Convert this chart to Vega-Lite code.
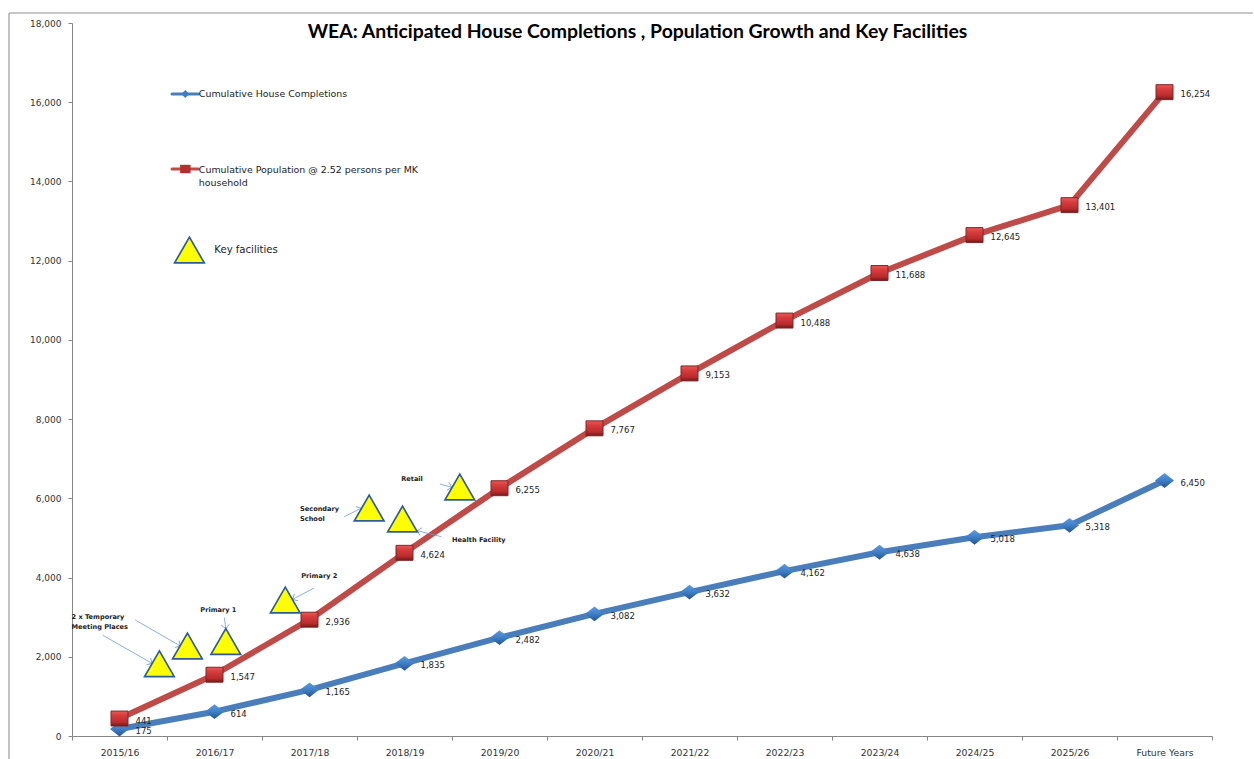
{
"$schema":"https://vega.github.io/schema/vega-lite/v6.json",
"width":1140,"height":713,
"autosize":"none",
"padding":{"left":72,"top":23,"right":42,"bottom":23},
"background":"white",
"title":{"text":"WEA: Anticipated House Completions , Population Growth and Key Facilities","font":"Lato","fontSize":19.4,"fontWeight":"bold","color":"#000000","anchor":"middle","dx":-4.5,"dy":30,"offset":0},
"config":{"view":{"stroke":null},"axis":{"grid":false,"labelFont":"DejaVu Sans","labelColor":"#333333","domainColor":"#868686","tickColor":"#868686","tickSize":4,"title":null}},
"datasets":{
"series":[
{"period":"2015/16","series":"Cumulative House Completions","value":175},
{"period":"2016/17","series":"Cumulative House Completions","value":614},
{"period":"2017/18","series":"Cumulative House Completions","value":1165},
{"period":"2018/19","series":"Cumulative House Completions","value":1835},
{"period":"2019/20","series":"Cumulative House Completions","value":2482},
{"period":"2020/21","series":"Cumulative House Completions","value":3082},
{"period":"2021/22","series":"Cumulative House Completions","value":3632},
{"period":"2022/23","series":"Cumulative House Completions","value":4162},
{"period":"2023/24","series":"Cumulative House Completions","value":4638},
{"period":"2024/25","series":"Cumulative House Completions","value":5018},
{"period":"2025/26","series":"Cumulative House Completions","value":5318},
{"period":"Future Years","series":"Cumulative House Completions","value":6450},
{"period":"2015/16","series":"Cumulative Population","value":441},
{"period":"2016/17","series":"Cumulative Population","value":1547},
{"period":"2017/18","series":"Cumulative Population","value":2936},
{"period":"2018/19","series":"Cumulative Population","value":4624},
{"period":"2019/20","series":"Cumulative Population","value":6255},
{"period":"2020/21","series":"Cumulative Population","value":7767},
{"period":"2021/22","series":"Cumulative Population","value":9153},
{"period":"2022/23","series":"Cumulative Population","value":10488},
{"period":"2023/24","series":"Cumulative Population","value":11688},
{"period":"2024/25","series":"Cumulative Population","value":12645},
{"period":"2025/26","series":"Cumulative Population","value":13401},
{"period":"Future Years","series":"Cumulative Population","value":16254}
],
"facilities":[
{"pos":0.920,"value":1825},{"pos":1.215,"value":2272},{"pos":1.619,"value":2386},{"pos":2.245,"value":3433},
{"pos":3.128,"value":5756},{"pos":3.479,"value":5478},{"pos":4.082,"value":6286},{"pos":1.236,"value":12269}
],
"notes":[
{"pos":-0.005,"value":3012,"text":"2 x Temporary"},
{"pos":-0.005,"value":2759,"text":"Meeting  Places"},
{"pos":1.351,"value":3173,"text":"Primary 1"},
{"pos":2.413,"value":4032,"text":"Primary 2"},
{"pos":2.400,"value":5723,"text":"Secondary"},
{"pos":2.400,"value":5471,"text":"School"},
{"pos":3.465,"value":6480,"text":"Retail"},
{"pos":4.001,"value":4940,"text":"Health Facility"}
],
"arrows":[
{"pos":0.325,"value":2542,"pos2":0.843,"value2":1835,"angle":119.6},
{"pos":0.666,"value":2928,"pos2":1.141,"value2":2272,"angle":120},
{"pos":1.604,"value":2986,"pos2":1.619,"value2":2709,"angle":172},
{"pos":2.548,"value":3736,"pos2":2.323,"value2":3451,"angle":242},
{"pos":2.865,"value":5536,"pos2":3.044,"value2":5748,"angle":64},
{"pos":3.890,"value":5031,"pos2":3.633,"value2":5183,"angle":284},
{"pos":3.872,"value":6362,"pos2":3.998,"value2":6278,"angle":105}
],
"legendText":[
{"pos":1.335,"value":16207,"text":"Cumulative House Completions"},
{"pos":1.335,"value":14297,"text":"Cumulative Population @ 2.52 persons per MK"},
{"pos":1.335,"value":13968,"text":"household"}
],
"legendLines":[
{"pos":1.054,"pos2":1.330,"value":16207,"series":"Cumulative House Completions"},
{"pos":1.054,"pos2":1.330,"value":14314,"series":"Cumulative Population"}
],
"frame":[
{"pos":-0.663,"pos2":-0.663,"value":18252,"value2":-580},
{"pos":-0.663,"pos2":12.43,"value":18252,"value2":18252}
]
},
"resolve":{"scale":{"x":"independent"},"axis":{"x":"independent"}},
"layer":[
{
"encoding":{
"x":{"field":"period","type":"nominal","sort":null,"scale":{"type":"band","paddingInner":0,"paddingOuter":0},"axis":{"title":null,"labelAngle":0,"labelFontSize":9.3,"labelPadding":8,"tickBand":"extent"}},
"y":{"field":"value","type":"quantitative","scale":{"domain":[0,18000],"nice":false},"axis":{"title":null,"values":[0,2000,4000,6000,8000,10000,12000,14000,16000,18000],"labelExpr":"format(datum.value, ',')","labelFontSize":9,"labelPadding":7}}
},
"data":{"name":"series"},
"layer":[
{"mark":{"type":"line","strokeWidth":6,"strokeJoin":"round"},
 "encoding":{"color":{"field":"series","type":"nominal","legend":null,"scale":{"domain":["Cumulative House Completions","Cumulative Population"],"range":["#4a7ebb","#be4b48"]}}}},
{"transform":[{"filter":"datum.series === 'Cumulative House Completions'"}],
 "mark":{"type":"point","filled":true,"opacity":1,"size":361,"shape":"M-1,0L0,-0.78L1,0L0,0.78Z","strokeWidth":0,"fill":{"gradient":"linear","x1":0,"y1":0,"x2":0,"y2":1,"stops":[{"offset":0,"color":"#5f9ae0"},{"offset":0.5,"color":"#3f7fc6"},{"offset":1,"color":"#24548f"}]}}},
{"transform":[{"filter":"datum.series === 'Cumulative Population'"}],
 "mark":{"type":"point","filled":true,"opacity":1,"size":289,"shape":"M-1,-0.88H1V0.88H-1Z","stroke":"#7e2626","strokeWidth":1,"fill":{"gradient":"linear","x1":0,"y1":0,"x2":0,"y2":1,"stops":[{"offset":0,"color":"#e85a5a"},{"offset":0.3,"color":"#d83c3c"},{"offset":0.75,"color":"#b92b2b"},{"offset":1,"color":"#6e1a1a"}]}}},
{"mark":{"type":"text","align":"left","baseline":"middle","dx":16,"dy":2,"font":"DejaVu Sans","fontSize":8.5,"color":"#222222"},
 "encoding":{"text":{"field":"value","type":"quantitative","format":","}}}
]
},
{
"encoding":{
"x":{"field":"pos","type":"quantitative","scale":{"domain":[0,12],"nice":false,"zero":false},"axis":null},
"y":{"field":"value","type":"quantitative","axis":{"title":null,"values":[0,2000,4000,6000,8000,10000,12000,14000,16000,18000],"labelExpr":"format(datum.value, ',')","labelFontSize":9,"labelPadding":7}}
},
"layer":[
{"data":{"name":"frame"},"mark":{"type":"rule","color":"#b4b4b4","strokeWidth":1.6},
 "encoding":{"x2":{"field":"pos2"},"y2":{"field":"value2"}}},
{"data":{"name":"arrows"},"mark":{"type":"rule","color":"#6f9bd5","strokeWidth":0.8},
 "encoding":{"x2":{"field":"pos2"},"y2":{"field":"value2"}}},
{"data":{"name":"arrows"},"mark":{"type":"point","filled":false,"shape":"M-1,1L0,0L1,1","size":64,"stroke":"#6f9bd5","strokeWidth":0.8,"opacity":1},
 "encoding":{"x":{"field":"pos2","type":"quantitative"},"y":{"field":"value2","type":"quantitative"},"angle":{"field":"angle","type":"quantitative","scale":null}}},
{"data":{"name":"facilities"},"mark":{"type":"point","shape":"triangle-up","size":880,"filled":true,"fill":"#ffff00","stroke":"#2f5c96","strokeWidth":1.7,"opacity":1,"strokeJoin":"miter"}},
{"data":{"name":"notes"},"mark":{"type":"text","align":"left","baseline":"middle","font":"DejaVu Sans","fontWeight":"bold","fontSize":6.6,"color":"#222222"},
 "encoding":{"text":{"field":"text"}}},
{"data":{"name":"legendLines"},"mark":{"type":"rule","strokeWidth":3.2,"strokeCap":"round"},
 "encoding":{"x2":{"field":"pos2"},"color":{"field":"series","type":"nominal","legend":null,"scale":{"domain":["Cumulative House Completions","Cumulative Population"],"range":["#4a7ebb","#be4b48"]}}}},
{"data":{"values":[{"pos":1.193,"value":16207}]},
 "mark":{"type":"point","filled":true,"opacity":1,"size":64,"shape":"M-1,0L0,-1L1,0L0,1Z","strokeWidth":0,"fill":"#3f7fc6"}},
{"data":{"values":[{"pos":1.193,"value":14314}]},
 "mark":{"type":"point","filled":true,"opacity":1,"size":110,"shape":"M-1,-0.8H1V0.8H-1Z","strokeWidth":0,"fill":"#b52f2f"}},
{"data":{"name":"legendText"},"mark":{"type":"text","align":"left","baseline":"middle","font":"DejaVu Sans","fontSize":9.45,"color":"#222222"},
 "encoding":{"text":{"field":"text"}}},
{"data":{"values":[{"pos":1.498,"value":12269,"text":"Key facilities"}]},"mark":{"type":"text","align":"left","baseline":"middle","font":"DejaVu Sans","fontSize":10.1,"color":"#222222"},
 "encoding":{"text":{"field":"text"}}}
]
}
]
}
